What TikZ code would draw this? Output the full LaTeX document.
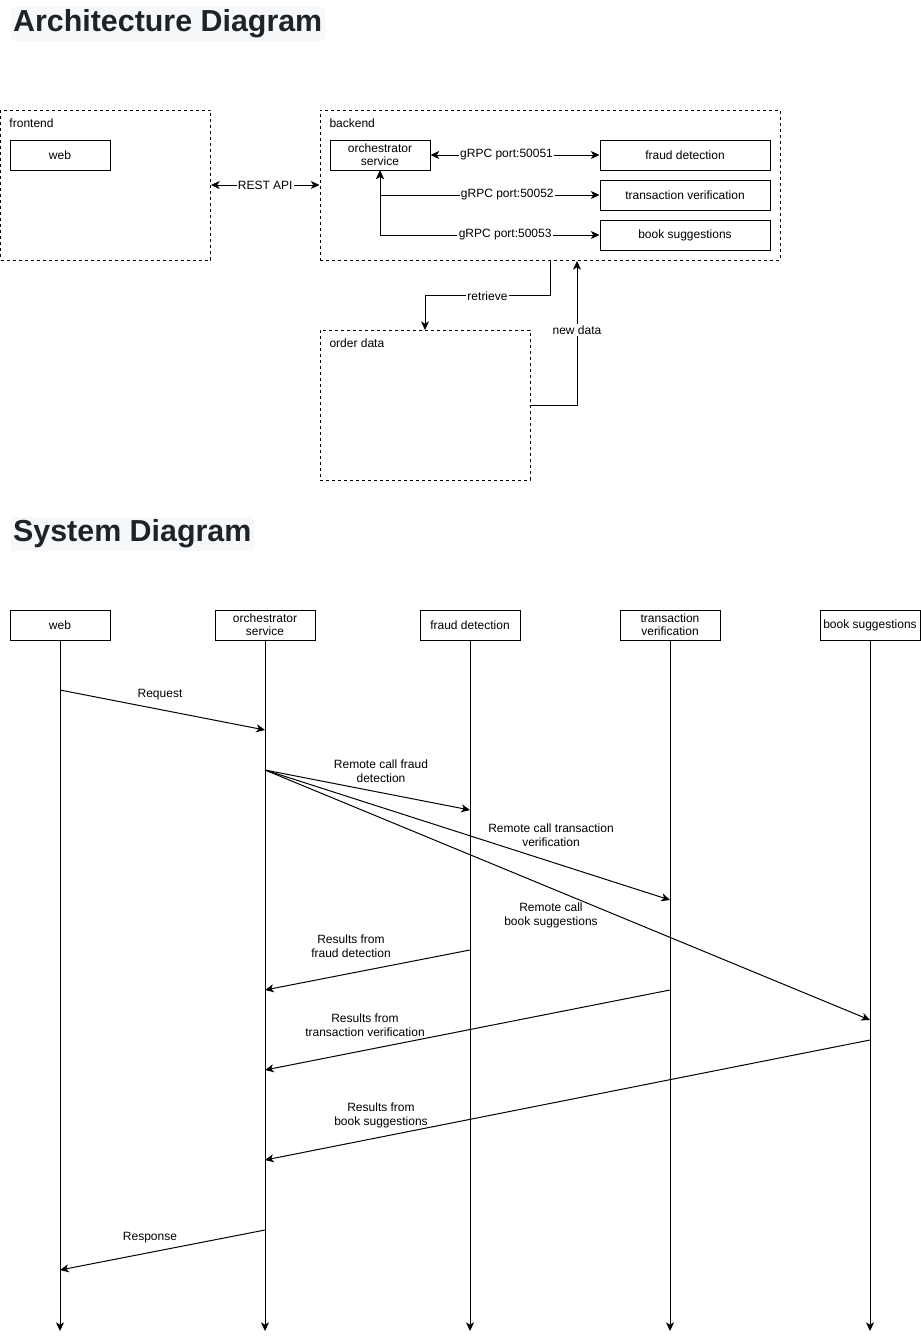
\documentclass[tikz,border=0pt]{standalone}
\usepackage{fontspec}
\setmainfont{Liberation Sans}
\usetikzlibrary{arrows.meta}
\definecolor{inkdark}{HTML}{1F2328}
\definecolor{titlebg}{HTML}{F6F8FA}
\begin{document}
\begin{tikzpicture}[x=0.75pt,y=-0.75pt,
  font=\fontsize{9}{10.5}\selectfont,
  line width=0.75pt,
  tip/.style={-{Stealth[length=6.5pt,width=6pt,inset=1.8pt]}},
  dtip/.style={{Stealth[length=6.5pt,width=6pt,inset=1.8pt]}-{Stealth[length=6.5pt,width=6pt,inset=1.8pt]}},
  box/.style={draw,fill=white,inner sep=0pt,minimum width=75pt,minimum height=22.5pt,align=center},
  widebox/.style={box,minimum width=127.5pt},
  group/.style={draw,dash pattern=on 2.25pt off 2.25pt,inner sep=0pt,minimum width=157.5pt,minimum height=112.5pt},
  grouplabel/.style={anchor=north west,inner sep=0pt},
  lbl/.style={fill=white,inner sep=1pt,align=center},
  note/.style={inner sep=0pt,align=center},
  title/.style={anchor=south west,font=\fontsize{22.8}{25}\selectfont\bfseries,text=inkdark,fill=titlebg,inner sep=2pt}]

\useasboundingbox[fill=white] (0,0) rectangle (921,1339);

% ---------- Architecture ----------
\node[title] (archtitle) at (10,41) {Architecture Diagram};

\node[group] (frontend) at (105.5,185) {};
\node[grouplabel] (frontendlbl) at (9,118) {frontend};
\node[box] (aweb) at (60,155) {web};

\node[group,minimum width=345pt] (backend) at (550,185) {};
\node[grouplabel] (backendlbl) at (329,118) {backend};
\node[box] (aorch) at (380,155) {orchestrator\\[-1pt]service};
\node[widebox] (afraud) at (685,155) {fraud detection};
\node[widebox] (atrans) at (685,195) {transaction verification};
\node[widebox] (abook) at (685,235) {book suggestions};

\node[group] (order) at (425,405) {};
\node[grouplabel] (orderlbl) at (329,338) {order data};

\draw[dtip] (frontend.east) -- node[lbl] {REST API} (backend.west);
\draw[dtip] (aorch.east) -- node[lbl,pos=0.45] {gRPC port:50051} (afraud.west);
\draw[dtip] (aorch.south) |- node[lbl,pos=0.79] {gRPC port:50052} (atrans.west);
\draw[dtip] (aorch.south) |- node[lbl,pos=0.785] {gRPC port:50053} (abook.west);

\coordinate (retrA) at (550,260);
\coordinate (retrB) at (425,330);
\draw[tip] (retrA) -- (550,295) -- node[lbl,pos=0.5,yshift=-1pt] {retrieve} (425,295) -- (retrB);
\coordinate (newA) at (530,405);
\coordinate (newB) at (577,261);
\draw[tip] (newA) -- (577,405) -- node[lbl,pos=0.52] {new data} (newB);

% ---------- Sequence ----------
\node[title] (systitle) at (10,551) {System Diagram};

\node[box] (sweb) at (60,625) {web};
\node[box] (sorch) at (265,625) {orchestrator\\[-1pt]service};
\node[box] (sfraud) at (470,625) {fraud detection};
\node[box] (strans) at (670,625) {transaction\\[-1pt]verification};
\node[box] (sbook) at (870,625) {book suggestions};

\foreach \n/\x in {sweb/60,sorch/265,sfraud/470,strans/670,sbook/870}{
  \coordinate (\n end) at (\x,1331);
  \draw[tip] (\n.south) -- (\n end);
}

% message anchors on the lifelines
\coordinate (reqA) at (60,690);   \coordinate (reqB) at (265,730);
\coordinate (callA) at (265,770);
\coordinate (callF) at (470,810);
\coordinate (callT) at (670,900);
\coordinate (callB) at (870,1020);
\coordinate (resFA) at (470,950);  \coordinate (resFB) at (265,990);
\coordinate (resTA) at (670,990);  \coordinate (resTB) at (265,1070);
\coordinate (resBA) at (870,1040); \coordinate (resBB) at (265,1160);
\coordinate (respA) at (265,1230); \coordinate (respB) at (60,1270);

\draw[tip] (reqA) -- (reqB);
\node[note] (reqlbl) at (160,695) {Request};

\draw[tip] (callA) -- (callF);
\draw[tip] (callA) -- (callT);
\draw[tip] (callA) -- (callB);
\node[note] (callFlbl) at (381,771) {Remote call fraud\\detection};
\node[note] (callTlbl) at (551,835) {Remote call transaction\\verification};
\node[note] (callBlbl) at (551,915) {Remote call\\book suggestions};

\draw[tip] (resFA) -- (resFB);
\node[note] (resFlbl) at (351,946) {Results from\\fraud detection};
\draw[tip] (resTA) -- (resTB);
\node[note] (resTlbl) at (365,1025) {Results from\\transaction verification};
\draw[tip] (resBA) -- (resBB);
\node[note] (resBlbl) at (381,1115) {Results from\\book suggestions};

\draw[tip] (respA) -- (respB);
\node[note] (resplbl) at (150,1238) {Response};
\end{tikzpicture}
\end{document}
